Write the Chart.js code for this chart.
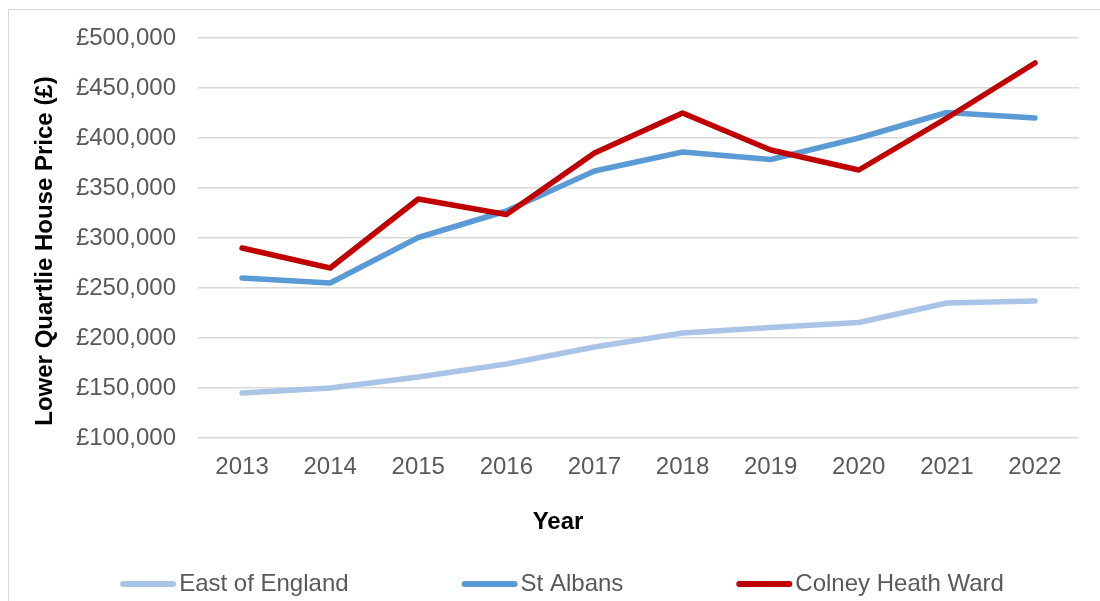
<!DOCTYPE html>
<html>
<head>
<meta charset="utf-8">
<title>Lower Quartile House Price</title>
<script src="https://cdn.jsdelivr.net/npm/chart.js@4.4.1/dist/chart.umd.min.js"></script>
<style>
  html, body { margin: 0; padding: 0; background: #ffffff; }
  #wrap { position: relative; width: 1100px; height: 601px; }
</style>
</head>
<body>
<div id="wrap"><canvas id="chart" width="1100" height="601"></canvas></div>
<script>
// Lower quartile house prices by year
const years = ['2013', '2014', '2015', '2016', '2017', '2018', '2019', '2020', '2021', '2022'];
const eastOfEngland = [145000, 150000, 161000, 174000, 191000, 205000, 210500, 215500, 235000, 237000];
const stAlbans = [260000, 255000, 300500, 327000, 367000, 386000, 378500, 400000, 425500, 420000];
const colneyHeath = [290000, 270000, 339000, 323500, 385000, 425000, 388000, 368000, 420000, 475000];
const seriesNames = ['East of England', 'St Albans', 'Colney Heath Ward'];
const yMin = 100000, yMax = 500000, yStep = 50000;
const xTitle = 'Year';
const yTitle = 'Lower Quartlie House Price (£)';

const FONT = "'Liberation Sans', Arial, sans-serif";
const TEXT = '#595959';

const fmtPounds = v => '£' + Number(v).toLocaleString('en-GB');

// Frame, axis titles and legend drawn on the canvas
const decorations = {
  id: 'decorations',
  beforeDraw(chart) {
    const ctx = chart.ctx;
    ctx.save();
    ctx.strokeStyle = '#d9d9d9';
    ctx.lineWidth = 1;
    ctx.strokeRect(8.5, 9.5, 1200, 800);
    ctx.restore();
  },
  afterDraw(chart) {
    const ctx = chart.ctx;
    ctx.save();
    // axis titles
    ctx.fillStyle = '#000000';
    ctx.font = 'bold 24px ' + FONT;
    ctx.textAlign = 'center';
    ctx.textBaseline = 'middle';
    ctx.fillText(xTitle, 558, 522);
    ctx.translate(45, 251);
    ctx.rotate(-Math.PI / 2);
    ctx.fillText(yTitle, 0, 0);
    ctx.setTransform(1, 0, 0, 1, 0, 0);

    // legend
    ctx.font = '24px ' + FONT;
    const lineLen = 56, gap = 3, spacing = 113, cy = 584;
    const items = chart.data.datasets.map(ds => ({
      text: ds.label, color: ds.borderColor, w: ctx.measureText(ds.label).width
    }));
    const total = items.reduce((s, it) => s + lineLen + gap + it.w, 0) + spacing * (items.length - 1);
    let x = 562 - total / 2;
    ctx.textAlign = 'left';
    ctx.textBaseline = 'middle';
    items.forEach(it => {
      ctx.strokeStyle = it.color;
      ctx.lineWidth = 6;
      ctx.lineCap = 'round';
      ctx.beginPath();
      ctx.moveTo(x + 3, cy);
      ctx.lineTo(x + lineLen - 3, cy);
      ctx.stroke();
      ctx.fillStyle = TEXT;
      ctx.fillText(it.text, x + lineLen + gap, cy);
      x += lineLen + gap + it.w + spacing;
    });
    ctx.restore();
  }
};

const lineStyle = {
  borderWidth: 5.5,
  pointRadius: 0,
  pointHoverRadius: 0,
  tension: 0,
  fill: false,
  borderCapStyle: 'round',
  borderJoinStyle: 'round'
};

new Chart(document.getElementById('chart'), {
  type: 'line',
  data: {
    labels: years,
    datasets: [
      Object.assign({ label: seriesNames[0], data: eastOfEngland, borderColor: '#a9c4e7', backgroundColor: '#a9c4e7', order: 3 }, lineStyle),
      Object.assign({ label: seriesNames[1], data: stAlbans, borderColor: '#5b9bd5', backgroundColor: '#5b9bd5', order: 2 }, lineStyle),
      Object.assign({ label: seriesNames[2], data: colneyHeath, borderColor: '#c00000', backgroundColor: '#c00000', order: 1 }, lineStyle)
    ]
  },
  options: {
    responsive: false,
    animation: false,
    events: [],
    layout: { padding: { top: 38, right: 21, bottom: 0, left: 0 } },
    plugins: {
      legend: { display: false },
      tooltip: { enabled: false },
      title: { display: false }
    },
    scales: {
      x: {
        type: 'category',
        offset: true,
        grid: { display: false, drawTicks: false },
        border: { display: false },
        ticks: {
          color: TEXT,
          font: { family: FONT, size: 24 },
          padding: 15,
          maxRotation: 0,
          autoSkip: false
        },
        afterFit(scale) { scale.height = 163; }
      },
      y: {
        min: yMin,
        max: yMax,
        grid: { color: '#d9d9d9', lineWidth: 1.5, drawTicks: false },
        border: { display: false },
        ticks: {
          stepSize: yStep,
          color: TEXT,
          font: { family: FONT, size: 24 },
          padding: 22,
          callback: v => fmtPounds(v)
        },
        afterFit(scale) { scale.width = 198; }
      }
    }
  },
  plugins: [decorations]
});
</script>
</body>
</html>
